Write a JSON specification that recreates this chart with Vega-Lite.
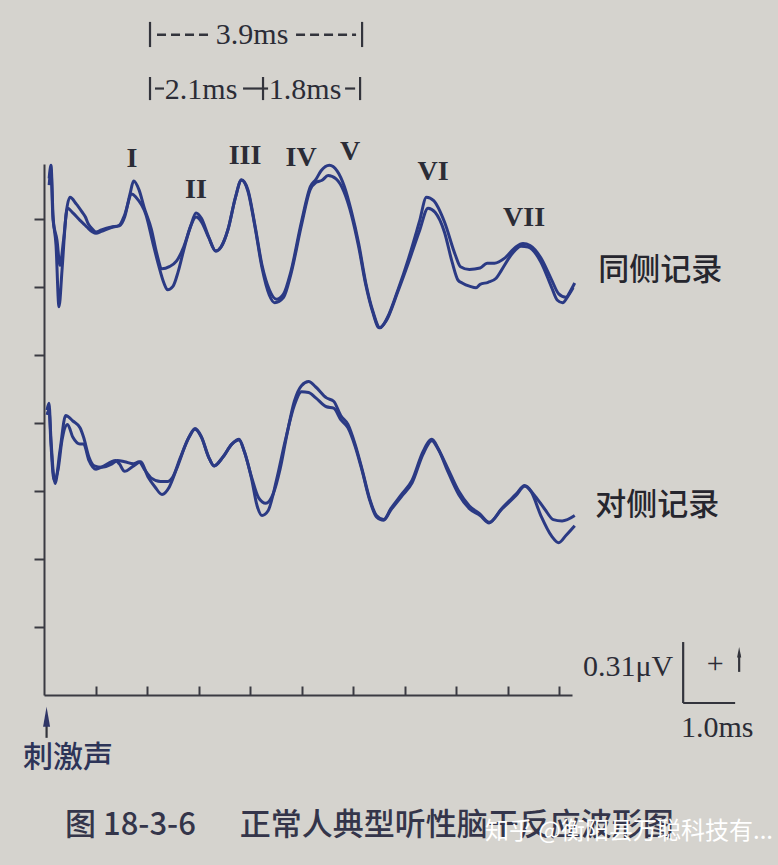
{
  "$schema": "https://vega.github.io/schema/vega-lite/v6.json",
  "width": 528,
  "height": 531,
  "autosize": {"type": "none"},
  "padding": {"left": 44, "top": 164, "right": 206, "bottom": 170},
  "background": "#d5d3ce",
  "config": {"view": {"stroke": null}},
  "datasets": {
    "wave": [
      {"series":"ipsi1","t":0.1,"v":7.6},{"series":"ipsi1","t":0.136,"v":7.79},{"series":"ipsi1","t":0.175,"v":7.06},{"series":"ipsi1","t":0.233,"v":6.62},{"series":"ipsi1","t":0.291,"v":5.71},{"series":"ipsi1","t":0.35,"v":6.25},{"series":"ipsi1","t":0.427,"v":7.06},{"series":"ipsi1","t":0.505,"v":7.32},{"series":"ipsi1","t":0.629,"v":7.22},{"series":"ipsi1","t":0.734,"v":7.11},{"series":"ipsi1","t":0.804,"v":7.03},{"series":"ipsi1","t":0.858,"v":6.93},{"series":"ipsi1","t":0.907,"v":6.88},{"series":"ipsi1","t":1.01,"v":6.81},{"series":"ipsi1","t":1.115,"v":6.84},{"series":"ipsi1","t":1.289,"v":6.88},{"series":"ipsi1","t":1.462,"v":6.9},{"series":"ipsi1","t":1.565,"v":7.03},{"series":"ipsi1","t":1.67,"v":7.37},{"series":"ipsi1","t":1.74,"v":7.56},{"series":"ipsi1","t":1.845,"v":7.43},{"series":"ipsi1","t":1.948,"v":7.16},{"series":"ipsi1","t":2.085,"v":6.85},{"series":"ipsi1","t":2.19,"v":6.49},{"series":"ipsi1","t":2.291,"v":6.27},{"series":"ipsi1","t":2.433,"v":6.3},{"series":"ipsi1","t":2.571,"v":6.38},{"series":"ipsi1","t":2.711,"v":6.59},{"series":"ipsi1","t":2.849,"v":6.9},{"series":"ipsi1","t":2.951,"v":7.09},{"series":"ipsi1","t":3.056,"v":7.01},{"series":"ipsi1","t":3.196,"v":6.74},{"series":"ipsi1","t":3.334,"v":6.53},{"series":"ipsi1","t":3.437,"v":6.59},{"series":"ipsi1","t":3.573,"v":6.85},{"series":"ipsi1","t":3.717,"v":7.32},{"series":"ipsi1","t":3.833,"v":7.58},{"series":"ipsi1","t":3.959,"v":7.43},{"series":"ipsi1","t":4.097,"v":6.9},{"series":"ipsi1","t":4.233,"v":6.32},{"series":"ipsi1","t":4.375,"v":5.96},{"series":"ipsi1","t":4.513,"v":5.82},{"series":"ipsi1","t":4.652,"v":5.9},{"series":"ipsi1","t":4.79,"v":6.22},{"series":"ipsi1","t":4.998,"v":6.96},{"series":"ipsi1","t":5.173,"v":7.48},{"series":"ipsi1","t":5.276,"v":7.58},{"series":"ipsi1","t":5.379,"v":7.71},{"series":"ipsi1","t":5.54,"v":7.79},{"series":"ipsi1","t":5.689,"v":7.71},{"series":"ipsi1","t":5.831,"v":7.48},{"series":"ipsi1","t":5.969,"v":7.11},{"series":"ipsi1","t":6.109,"v":6.64},{"series":"ipsi1","t":6.247,"v":6.06},{"series":"ipsi1","t":6.386,"v":5.64},{"series":"ipsi1","t":6.524,"v":5.4},{"series":"ipsi1","t":6.66,"v":5.54},{"series":"ipsi1","t":6.872,"v":5.96},{"series":"ipsi1","t":7.08,"v":6.43},{"series":"ipsi1","t":7.287,"v":6.96},{"series":"ipsi1","t":7.425,"v":7.32},{"series":"ipsi1","t":7.565,"v":7.27},{"series":"ipsi1","t":7.773,"v":6.96},{"series":"ipsi1","t":7.981,"v":6.48},{"series":"ipsi1","t":8.085,"v":6.3},{"series":"ipsi1","t":8.258,"v":6.26},{"series":"ipsi1","t":8.466,"v":6.28},{"series":"ipsi1","t":8.602,"v":6.35},{"series":"ipsi1","t":8.744,"v":6.35},{"series":"ipsi1","t":8.951,"v":6.43},{"series":"ipsi1","t":9.159,"v":6.59},{"series":"ipsi1","t":9.299,"v":6.64},{"series":"ipsi1","t":9.437,"v":6.61},{"series":"ipsi1","t":9.645,"v":6.43},{"series":"ipsi1","t":9.852,"v":6.11},{"series":"ipsi1","t":9.992,"v":5.9},{"series":"ipsi1","t":10.13,"v":5.85},{"series":"ipsi1","t":10.233,"v":5.96},{"series":"ipsi1","t":10.303,"v":6.06},
      {"series":"ipsi2","t":0.1,"v":7.5},{"series":"ipsi2","t":0.136,"v":7.72},{"series":"ipsi2","t":0.175,"v":6.99},{"series":"ipsi2","t":0.252,"v":6.69},{"series":"ipsi2","t":0.311,"v":6.32},{"series":"ipsi2","t":0.379,"v":6.69},{"series":"ipsi2","t":0.456,"v":7.16},{"series":"ipsi2","t":0.561,"v":7.09},{"series":"ipsi2","t":0.699,"v":6.98},{"series":"ipsi2","t":0.769,"v":6.93},{"series":"ipsi2","t":0.837,"v":6.88},{"series":"ipsi2","t":0.942,"v":6.81},{"series":"ipsi2","t":1.01,"v":6.79},{"series":"ipsi2","t":1.115,"v":6.82},{"series":"ipsi2","t":1.32,"v":6.88},{"series":"ipsi2","t":1.462,"v":6.91},{"series":"ipsi2","t":1.565,"v":7.06},{"series":"ipsi2","t":1.705,"v":7.37},{"series":"ipsi2","t":1.786,"v":7.32},{"series":"ipsi2","t":1.981,"v":7.06},{"series":"ipsi2","t":2.117,"v":6.64},{"series":"ipsi2","t":2.225,"v":6.32},{"series":"ipsi2","t":2.328,"v":6.06},{"series":"ipsi2","t":2.398,"v":5.96},{"series":"ipsi2","t":2.503,"v":6.01},{"series":"ipsi2","t":2.602,"v":6.22},{"series":"ipsi2","t":2.711,"v":6.54},{"series":"ipsi2","t":2.849,"v":6.9},{"series":"ipsi2","t":2.951,"v":7.03},{"series":"ipsi2","t":3.056,"v":6.96},{"series":"ipsi2","t":3.196,"v":6.73},{"series":"ipsi2","t":3.334,"v":6.53},{"series":"ipsi2","t":3.437,"v":6.59},{"series":"ipsi2","t":3.573,"v":6.85},{"series":"ipsi2","t":3.717,"v":7.32},{"series":"ipsi2","t":3.833,"v":7.57},{"series":"ipsi2","t":3.959,"v":7.41},{"series":"ipsi2","t":4.097,"v":6.88},{"series":"ipsi2","t":4.233,"v":6.28},{"series":"ipsi2","t":4.375,"v":5.88},{"series":"ipsi2","t":4.478,"v":5.77},{"series":"ipsi2","t":4.652,"v":5.85},{"series":"ipsi2","t":4.79,"v":6.18},{"series":"ipsi2","t":4.998,"v":6.91},{"series":"ipsi2","t":5.165,"v":7.43},{"series":"ipsi2","t":5.282,"v":7.54},{"series":"ipsi2","t":5.398,"v":7.57},{"series":"ipsi2","t":5.515,"v":7.64},{"series":"ipsi2","t":5.67,"v":7.59},{"series":"ipsi2","t":5.825,"v":7.4},{"series":"ipsi2","t":5.969,"v":7.06},{"series":"ipsi2","t":6.109,"v":6.59},{"series":"ipsi2","t":6.247,"v":6.03},{"series":"ipsi2","t":6.386,"v":5.62},{"series":"ipsi2","t":6.505,"v":5.4},{"series":"ipsi2","t":6.641,"v":5.5},{"series":"ipsi2","t":6.872,"v":5.94},{"series":"ipsi2","t":7.08,"v":6.37},{"series":"ipsi2","t":7.287,"v":6.82},{"series":"ipsi2","t":7.456,"v":7.16},{"series":"ipsi2","t":7.592,"v":7.1},{"series":"ipsi2","t":7.773,"v":6.81},{"series":"ipsi2","t":7.922,"v":6.37},{"series":"ipsi2","t":8.039,"v":6.1},{"series":"ipsi2","t":8.117,"v":6.06},{"series":"ipsi2","t":8.272,"v":6.01},{"series":"ipsi2","t":8.388,"v":5.99},{"series":"ipsi2","t":8.466,"v":6.04},{"series":"ipsi2","t":8.621,"v":6.07},{"series":"ipsi2","t":8.777,"v":6.13},{"series":"ipsi2","t":8.882,"v":6.25},{"series":"ipsi2","t":9.087,"v":6.49},{"series":"ipsi2","t":9.262,"v":6.6},{"series":"ipsi2","t":9.398,"v":6.59},{"series":"ipsi2","t":9.645,"v":6.37},{"series":"ipsi2","t":9.852,"v":6.0},{"series":"ipsi2","t":9.961,"v":5.81},{"series":"ipsi2","t":10.068,"v":5.77},{"series":"ipsi2","t":10.175,"v":5.87},{"series":"ipsi2","t":10.272,"v":5.99},
      {"series":"contra1","t":0.058,"v":4.19},{"series":"contra1","t":0.097,"v":4.29},{"series":"contra1","t":0.136,"v":3.75},{"series":"contra1","t":0.214,"v":3.11},{"series":"contra1","t":0.311,"v":3.6},{"series":"contra1","t":0.421,"v":4.11},{"series":"contra1","t":0.561,"v":4.03},{"series":"contra1","t":0.699,"v":3.93},{"series":"contra1","t":0.769,"v":3.79},{"series":"contra1","t":0.872,"v":3.5},{"series":"contra1","t":0.977,"v":3.37},{"series":"contra1","t":1.115,"v":3.35},{"series":"contra1","t":1.32,"v":3.4},{"series":"contra1","t":1.427,"v":3.45},{"series":"contra1","t":1.565,"v":3.43},{"series":"contra1","t":1.74,"v":3.4},{"series":"contra1","t":1.845,"v":3.43},{"series":"contra1","t":1.948,"v":3.32},{"series":"contra1","t":2.085,"v":3.19},{"series":"contra1","t":2.26,"v":3.14},{"series":"contra1","t":2.398,"v":3.14},{"series":"contra1","t":2.503,"v":3.21},{"series":"contra1","t":2.641,"v":3.48},{"series":"contra1","t":2.814,"v":3.79},{"series":"contra1","t":2.932,"v":3.91},{"series":"contra1","t":3.056,"v":3.79},{"series":"contra1","t":3.196,"v":3.5},{"series":"contra1","t":3.301,"v":3.37},{"series":"contra1","t":3.474,"v":3.5},{"series":"contra1","t":3.647,"v":3.69},{"series":"contra1","t":3.786,"v":3.75},{"series":"contra1","t":3.889,"v":3.58},{"series":"contra1","t":4.027,"v":3.21},{"series":"contra1","t":4.167,"v":2.9},{"series":"contra1","t":4.305,"v":2.82},{"series":"contra1","t":4.445,"v":2.95},{"series":"contra1","t":4.583,"v":3.32},{"series":"contra1","t":4.718,"v":3.84},{"series":"contra1","t":4.86,"v":4.32},{"series":"contra1","t":4.998,"v":4.55},{"series":"contra1","t":5.138,"v":4.61},{"series":"contra1","t":5.276,"v":4.53},{"series":"contra1","t":5.484,"v":4.37},{"series":"contra1","t":5.623,"v":4.32},{"series":"contra1","t":5.761,"v":4.11},{"series":"contra1","t":5.901,"v":3.98},{"series":"contra1","t":6.039,"v":3.69},{"series":"contra1","t":6.175,"v":3.32},{"series":"contra1","t":6.317,"v":2.9},{"series":"contra1","t":6.454,"v":2.64},{"series":"contra1","t":6.594,"v":2.58},{"series":"contra1","t":6.732,"v":2.74},{"series":"contra1","t":6.94,"v":2.95},{"series":"contra1","t":7.146,"v":3.16},{"series":"contra1","t":7.357,"v":3.58},{"series":"contra1","t":7.53,"v":3.76},{"series":"contra1","t":7.649,"v":3.63},{"series":"contra1","t":7.822,"v":3.32},{"series":"contra1","t":8.05,"v":2.95},{"series":"contra1","t":8.258,"v":2.74},{"series":"contra1","t":8.466,"v":2.64},{"series":"contra1","t":8.641,"v":2.53},{"series":"contra1","t":8.882,"v":2.74},{"series":"contra1","t":9.159,"v":2.95},{"series":"contra1","t":9.332,"v":3.08},{"series":"contra1","t":9.507,"v":2.95},{"series":"contra1","t":9.715,"v":2.74},{"series":"contra1","t":9.887,"v":2.58},{"series":"contra1","t":10.058,"v":2.56},{"series":"contra1","t":10.303,"v":2.64},
      {"series":"contra2","t":0.058,"v":4.12},{"series":"contra2","t":0.097,"v":4.19},{"series":"contra2","t":0.136,"v":3.68},{"series":"contra2","t":0.194,"v":3.16},{"series":"contra2","t":0.272,"v":3.31},{"series":"contra2","t":0.35,"v":3.75},{"series":"contra2","t":0.456,"v":3.98},{"series":"contra2","t":0.561,"v":3.79},{"series":"contra2","t":0.699,"v":3.69},{"series":"contra2","t":0.769,"v":3.69},{"series":"contra2","t":0.872,"v":3.45},{"series":"contra2","t":1.01,"v":3.32},{"series":"contra2","t":1.115,"v":3.35},{"series":"contra2","t":1.392,"v":3.45},{"series":"contra2","t":1.462,"v":3.4},{"series":"contra2","t":1.565,"v":3.29},{"series":"contra2","t":1.74,"v":3.37},{"series":"contra2","t":1.878,"v":3.43},{"series":"contra2","t":2.017,"v":3.21},{"series":"contra2","t":2.155,"v":3.06},{"series":"contra2","t":2.291,"v":2.95},{"series":"contra2","t":2.433,"v":3.06},{"series":"contra2","t":2.571,"v":3.32},{"series":"contra2","t":2.814,"v":3.79},{"series":"contra2","t":2.932,"v":3.92},{"series":"contra2","t":3.056,"v":3.8},{"series":"contra2","t":3.196,"v":3.5},{"series":"contra2","t":3.301,"v":3.37},{"series":"contra2","t":3.474,"v":3.5},{"series":"contra2","t":3.647,"v":3.69},{"series":"contra2","t":3.786,"v":3.76},{"series":"contra2","t":3.889,"v":3.58},{"series":"contra2","t":4.027,"v":3.19},{"series":"contra2","t":4.138,"v":2.78},{"series":"contra2","t":4.233,"v":2.64},{"series":"contra2","t":4.35,"v":2.71},{"series":"contra2","t":4.513,"v":3.16},{"series":"contra2","t":4.68,"v":3.73},{"series":"contra2","t":4.86,"v":4.26},{"series":"contra2","t":4.998,"v":4.46},{"series":"contra2","t":5.138,"v":4.45},{"series":"contra2","t":5.276,"v":4.37},{"series":"contra2","t":5.484,"v":4.24},{"series":"contra2","t":5.623,"v":4.22},{"series":"contra2","t":5.761,"v":4.05},{"series":"contra2","t":5.901,"v":3.93},{"series":"contra2","t":6.039,"v":3.66},{"series":"contra2","t":6.175,"v":3.3},{"series":"contra2","t":6.317,"v":2.88},{"series":"contra2","t":6.454,"v":2.62},{"series":"contra2","t":6.594,"v":2.57},{"series":"contra2","t":6.732,"v":2.72},{"series":"contra2","t":6.94,"v":2.92},{"series":"contra2","t":7.146,"v":3.12},{"series":"contra2","t":7.357,"v":3.54},{"series":"contra2","t":7.53,"v":3.74},{"series":"contra2","t":7.649,"v":3.62},{"series":"contra2","t":7.822,"v":3.36},{"series":"contra2","t":8.05,"v":3.0},{"series":"contra2","t":8.258,"v":2.78},{"series":"contra2","t":8.466,"v":2.66},{"series":"contra2","t":8.641,"v":2.54},{"series":"contra2","t":8.882,"v":2.73},{"series":"contra2","t":9.159,"v":2.93},{"series":"contra2","t":9.332,"v":3.07},{"series":"contra2","t":9.456,"v":2.99},{"series":"contra2","t":9.645,"v":2.64},{"series":"contra2","t":9.852,"v":2.34},{"series":"contra2","t":9.992,"v":2.24},{"series":"contra2","t":10.136,"v":2.35},{"series":"contra2","t":10.303,"v":2.49}
    ],
    "numerals": [
      {"label":"I","t":1.709,"v":7.88},
      {"label":"II","t":2.951,"v":7.43},
      {"label":"III","t":3.903,"v":7.93},
      {"label":"IV","t":4.99,"v":7.9},
      {"label":"V","t":5.942,"v":7.99},
      {"label":"VI","t":7.553,"v":7.69},
      {"label":"VII","t":9.32,"v":7.01}
    ],
    "serifText": [
      {"label":"3.9ms","t":4.039,"v":9.71},
      {"label":"2.1ms","t":3.049,"v":8.9},
      {"label":"1.8ms","t":5.068,"v":8.9},
      {"label":"0.31μV","t":11.34,"v":0.41},
      {"label":"+","t":13.03,"v":0.46},
      {"label":"1.0ms","t":13.07,"v":-0.49}
    ],
    "cnLabels": [
      {"label":"同侧记录","t":10.76,"v":6.24},
      {"label":"对侧记录","t":10.7,"v":2.78}
    ],
    "stim": [{"label":"刺激声","t":0.466,"v":-0.93}],
    "captionA": [{"label":"图 18-3-6","t":0.408,"v":-1.93}],
    "captionB": [{"label":"正常人典型听性脑干反应波形图","t":3.8,"v":-1.93}],
    "watermark": [{"label":"知乎 @衡阳县万聪科技有...","t":8.56,"v":-2.01}],
    "solidRules": [
      {"t":2.058,"t2":2.058,"v":9.9,"v2":9.53},
      {"t":6.175,"t2":6.175,"v":9.9,"v2":9.53},
      {"t":2.058,"t2":2.058,"v":9.09,"v2":8.75},
      {"t":4.252,"t2":4.252,"v":9.09,"v2":8.75},
      {"t":6.136,"t2":6.136,"v":9.09,"v2":8.75},
      {"t":2.155,"t2":2.33,"v":8.92,"v2":8.92},
      {"t":3.864,"t2":4.35,"v":8.92,"v2":8.92},
      {"t":5.845,"t2":6.04,"v":8.92,"v2":8.92},
      {"t":12.408,"t2":12.408,"v":0.779,"v2":-0.118},
      {"t":12.408,"t2":13.417,"v":-0.118,"v2":-0.118},
      {"t":13.495,"t2":13.495,"v":0.34,"v2":0.6},
      {"t":0.05,"t2":0.05,"v":-0.4,"v2":-0.63}
    ],
    "dashRules": [
      {"t":2.194,"t2":3.223,"v":9.71,"v2":9.71},
      {"t":4.893,"t2":6.058,"v":9.71,"v2":9.71}
    ],
    "bigHead": [{"t":0.05,"v":-0.32}],
    "smallHead": [{"t":13.495,"v":0.63}]
  },
  "encoding": {
    "x": {"field":"t","type":"quantitative","scale":{"domain":[0,10.25],"nice":false,"zero":false},
      "axis":{"values":[1,2,3,4,5,6,7,8,9,10],"labels":false,"title":null,"grid":false,"domainColor":"#3a3a42","domainWidth":2,"tickColor":"#3a3a42","tickWidth":2,"tickSize":-9}},
    "y": {"field":"v","type":"quantitative","scale":{"domain":[0,7.81],"nice":false,"zero":false},
      "axis":{"values":[1,2,3,4,5,6,7],"labels":false,"title":null,"grid":false,"domainColor":"#3a3a42","domainWidth":2,"tickColor":"#3a3a42","tickWidth":2,"tickSize":10}}
  },
  "layer": [
    {"data":{"name":"wave"},"mark":{"type":"line","interpolate":"monotone","color":"#2b3a84","strokeWidth":3,"clip":false},
      "encoding":{"detail":{"field":"series","type":"nominal"}}},
    {"data":{"name":"solidRules"},"mark":{"type":"rule","color":"#33343c","strokeWidth":2.2},
      "encoding":{"x2":{"field":"t2"},"y2":{"field":"v2"}}},
    {"data":{"name":"dashRules"},"mark":{"type":"rule","color":"#33343c","strokeWidth":2.4,"strokeDash":[9,5]},
      "encoding":{"x2":{"field":"t2"},"y2":{"field":"v2"}}},
    {"data":{"name":"bigHead"},"mark":{"type":"point","shape":"M0,-1L0.35,1L-0.35,1Z","size":400,"filled":true,"color":"#2f3566","opacity":1},"encoding":{}},
    {"data":{"name":"smallHead"},"mark":{"type":"point","shape":"M0,-1L0.4,1L-0.4,1Z","size":110,"filled":true,"color":"#33343c","opacity":1},"encoding":{}},
    {"data":{"name":"numerals"},"mark":{"type":"text","font":"Liberation Serif","fontSize":28,"fontWeight":"bold","color":"#2b2c36","align":"center","baseline":"middle"},
      "encoding":{"text":{"field":"label"}}},
    {"data":{"name":"serifText"},"mark":{"type":"text","font":"Liberation Serif","fontSize":30,"color":"#2b2c36","align":"center","baseline":"middle"},
      "encoding":{"text":{"field":"label"}}},
    {"data":{"name":"cnLabels"},"mark":{"type":"text","font":"Noto Sans CJK SC","fontSize":31,"fontWeight":500,"color":"#26262e","align":"left","baseline":"middle"},
      "encoding":{"text":{"field":"label"}}},
    {"data":{"name":"stim"},"mark":{"type":"text","font":"Noto Sans CJK SC","fontSize":30,"fontWeight":500,"color":"#2d3458","align":"center","baseline":"middle"},
      "encoding":{"text":{"field":"label"}}},
    {"data":{"name":"captionA"},"mark":{"type":"text","font":"Noto Sans CJK SC","fontSize":31,"fontWeight":500,"color":"#34354a","align":"left","baseline":"middle"},
      "encoding":{"text":{"field":"label"}}},
    {"data":{"name":"captionB"},"mark":{"type":"text","font":"Noto Sans CJK SC","fontSize":31,"fontWeight":500,"color":"#34354a","align":"left","baseline":"middle"},
      "encoding":{"text":{"field":"label"}}},
    {"data":{"name":"watermark"},"mark":{"type":"text","font":"Noto Sans CJK SC","fontSize":24,"color":"#ffffff","align":"left","baseline":"middle"},
      "encoding":{"text":{"field":"label"}}}
  ]
}
